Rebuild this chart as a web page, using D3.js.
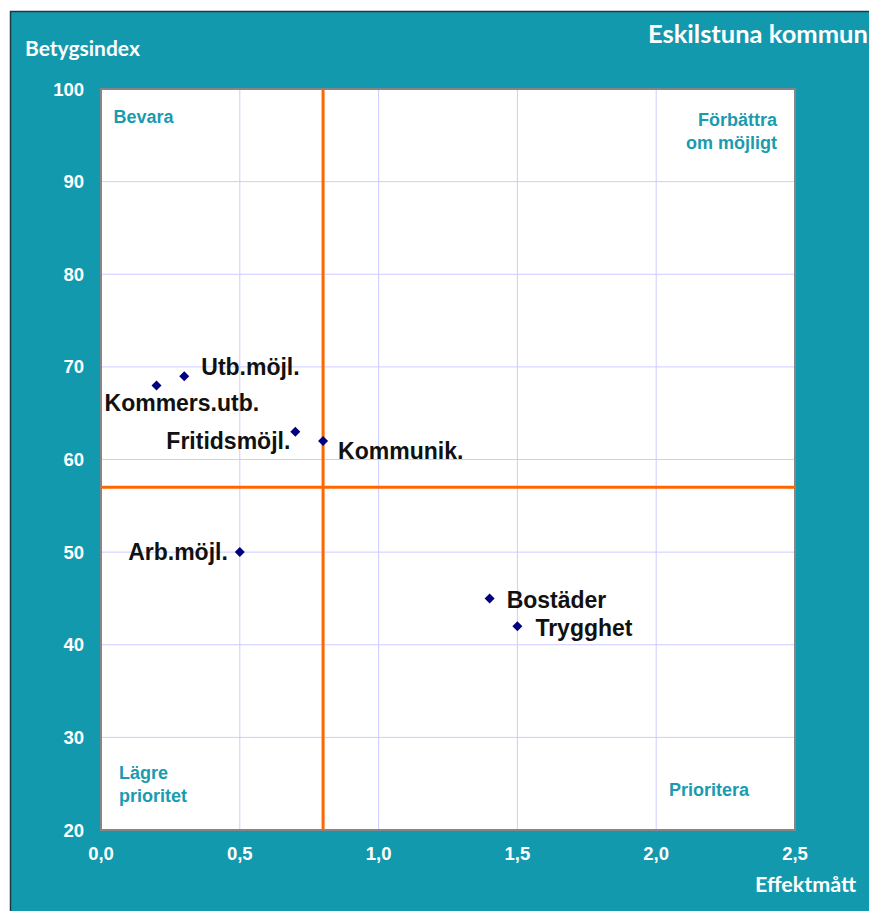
<!DOCTYPE html>
<html><head><meta charset="utf-8">
<script src="https://cdn.jsdelivr.net/npm/d3@7"></script>
<style>html,body{margin:0;padding:0;background:#fff;overflow:hidden}</style>
</head><body>
<script>
const labels = ["Kommers.utb.","Utb.möjl.","Fritidsmöjl.","Kommunik.","Arb.möjl.","Bostäder","Trygghet"];
const effekt = [0.2,0.3,0.7,0.8,0.5,1.4,1.5];
const betyg = [68,69,63,62,50,45,42];
const xTicks = [0,0.5,1.0,1.5,2.0,2.5];
const yTicks = [20,30,40,50,60,70,80,90,100];
const refX = 0.8, refY = 57;
const quadrants = [
  {lines:["Bevara"], x:0.045, y:96.3, anchor:"start"},
  {lines:["Förbättra","om möjligt"], x:2.435, y:96.0, anchor:"end"},
  {lines:["Lägre","prioritet"], x:0.065, y:25.5, anchor:"start"},
  {lines:["Prioritera"], x:2.046, y:23.67, anchor:"start"}
];
// label offsets (pixels) per point: dx, dy(baseline), anchor
const labelPos = [
  {dx:-52,dy:26,a:"start"},{dx:17,dy:-1,a:"start"},{dx:-5,dy:17.5,a:"end"},
  {dx:15,dy:18,a:"start"},{dx:-12,dy:8,a:"end"},{dx:17,dy:10,a:"start"},{dx:18,dy:10,a:"start"}
];
const W=869,H=911, teal="#1399ae";
const arial="'Liberation Sans', Arimo, Arial, sans-serif";
const svg=d3.select("body").append("svg").attr("width",W).attr("height",H);
svg.append("rect").attr("x",10.5).attr("y",11.5).attr("width",W).attr("height",H).attr("fill",teal).attr("stroke","#1a3a40").attr("stroke-width",1.5);
const x=d3.scaleLinear().domain([0,2.5]).range([101,795]);
const y=d3.scaleLinear().domain([20,100]).range([830,89]);
svg.append("rect").attr("x",101).attr("y",89).attr("width",694).attr("height",741).attr("fill","#fff");
const g=svg.append("g");
g.selectAll(".gx").data(xTicks.slice(1,-1)).join("line").attr("x1",d=>x(d)).attr("x2",d=>x(d)).attr("y1",89).attr("y2",830).attr("stroke","#ccccff").attr("stroke-width",1);
g.selectAll(".gy").data(yTicks.slice(1,-1)).join("line").attr("x1",101).attr("x2",795).attr("y1",d=>y(d)).attr("y2",d=>y(d)).attr("stroke","#ccccff").attr("stroke-width",1);
svg.append("rect").attr("x",101).attr("y",89).attr("width",694).attr("height",741).attr("fill","none").attr("stroke","#858585").attr("stroke-width",2);
// axis labels
svg.selectAll(".yl").data(yTicks).join("text").attr("x",84).attr("y",d=>y(d)+6.5).attr("text-anchor","end")
  .attr("font-family",arial).attr("font-weight","bold").attr("font-size",18.5).attr("fill","#fff").text(d=>d);
svg.selectAll(".xl").data(xTicks).join("text").attr("x",d=>x(d)).attr("y",860).attr("text-anchor","middle")
  .attr("font-family",arial).attr("font-weight","bold").attr("font-size",18.5).attr("fill","#fff").text(d=>d3.format(".1f")(d).replace(".",","));
// reference lines
svg.append("line").attr("x1",x(refX)).attr("x2",x(refX)).attr("y1",89).attr("y2",830).attr("stroke","#ff6600").attr("stroke-width",3);
svg.append("line").attr("x1",101).attr("x2",795).attr("y1",y(refY)).attr("y2",y(refY)).attr("stroke","#ff6600").attr("stroke-width",3);
// quadrant labels
quadrants.forEach(q=>{
  const t=svg.append("text").attr("x",x(q.x)).attr("y",y(q.y)).attr("text-anchor",q.anchor)
    .attr("font-family",arial).attr("font-weight","bold").attr("font-size",18).attr("fill","#1a9bb0");
  q.lines.forEach((l,i)=>t.append("tspan").attr("x",x(q.x)).attr("dy",i?23:0).text(l));
});
// points
const sym=d3.symbol().type(d3.symbolSquare).size(50);
svg.selectAll(".pt").data(effekt).join("path").attr("d",sym)
  .attr("transform",(d,i)=>`translate(${x(d)},${y(betyg[i])}) rotate(45)`).attr("fill","#000080");
svg.selectAll(".lb").data(labels).join("text")
  .attr("x",(d,i)=>x(effekt[i])+labelPos[i].dx).attr("y",(d,i)=>y(betyg[i])+labelPos[i].dy)
  .attr("text-anchor",(d,i)=>labelPos[i].a)
  .attr("font-family",arial).attr("font-weight","bold").attr("font-size",23).attr("fill","#111").text(d=>d);
// titles
const cal="Lato, 'Open Sans', sans-serif";
svg.append("text").attr("x",648).attr("y",43).attr("font-family",cal).attr("font-weight","bold").attr("font-size",25.5).attr("fill","#fff").text("Eskilstuna kommun");
svg.append("text").attr("x",25).attr("y",56).attr("font-family",cal).attr("font-weight","bold").attr("font-size",21).attr("fill","#fff").text("Betygsindex");
svg.append("text").attr("x",755).attr("y",892).attr("font-family",cal).attr("font-weight","bold").attr("font-size",21.5).attr("fill","#fff").text("Effektmått");
</script>
</body></html>
